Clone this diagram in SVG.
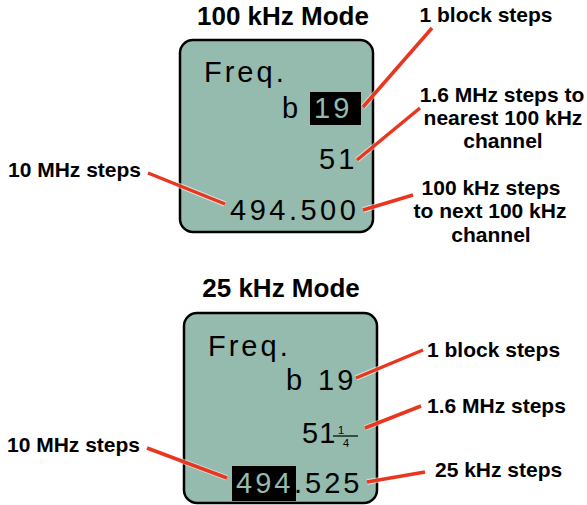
<svg xmlns="http://www.w3.org/2000/svg" width="587" height="505" viewBox="0 0 587 505">
<style>
.title{font-family:"Liberation Sans",Arial,sans-serif;font-weight:bold;font-size:26px;fill:#000;text-anchor:middle}
.lbl{font-family:"Liberation Sans",Arial,sans-serif;font-weight:bold;font-size:21px;fill:#000}
.mid{text-anchor:middle}
.lcd{font-family:"Liberation Sans",Arial,sans-serif;font-size:29px;fill:#000;letter-spacing:3px}
.inv{fill:#94bbad}
.frac{font-family:"Liberation Sans",Arial,sans-serif;font-size:11px;fill:#000;text-anchor:middle}
.box{fill:#94bbad;stroke:#000;stroke-width:2.5}
.lead{stroke:#e8361f;stroke-width:3.5;fill:none}
.halo{stroke:#fff;stroke-width:5.5;fill:none;opacity:0.6}
</style>
<rect width="587" height="505" fill="#fff"/>
<g id="mode100">
<text class="title" x="283" y="25">100 kHz Mode</text>
<rect class="box" x="180" y="40" width="193" height="192" rx="13"/>
<text class="lcd" x="204" y="82">Freq.</text>
<text class="lcd" x="282" y="118">b</text>
<rect x="310" y="92" width="51" height="33" fill="#000"/>
<text class="lcd inv" x="314" y="118">19</text>
<text class="lcd" x="319" y="169">51</text>
<text class="lcd" x="230" y="220" style="letter-spacing:3.5px">494.500</text>
</g>
<g id="mode25">
<text class="title" x="281" y="297">25 kHz Mode</text>
<rect class="box" x="184" y="313" width="193" height="190" rx="13"/>
<text class="lcd" x="208" y="356">Freq.</text>
<text class="lcd" x="286" y="390">b</text>
<text class="lcd" x="318" y="390">19</text>
<text class="lcd" x="302" y="443" style="letter-spacing:1px">51</text>
<text class="frac" x="341" y="434">1</text>
<line x1="333" y1="436" x2="358" y2="436" stroke="#000" stroke-width="1.2"/>
<text class="frac" x="346" y="447">4</text>
<rect x="232" y="466" width="64" height="35" fill="#000"/>
<text class="lcd inv" x="236" y="493">494</text>
<text class="lcd" x="294" y="493">.525</text>
</g>
<g id="labels">
<text class="lbl mid" x="486" y="22">1 block steps</text>
<text class="lbl mid" x="502" y="102">1.6 MHz steps to</text>
<text class="lbl mid" x="503" y="125">nearest 100 kHz</text>
<text class="lbl mid" x="503" y="148">channel</text>
<text class="lbl mid" x="491" y="195">100 kHz steps</text>
<text class="lbl mid" x="490" y="218">to next 100 kHz</text>
<text class="lbl mid" x="491" y="242">channel</text>
<text class="lbl" x="8" y="177">10 MHz steps</text>
<text class="lbl" x="427" y="357">1 block steps</text>
<text class="lbl" x="427" y="413">1.6 MHz steps</text>
<text class="lbl" x="435" y="477">25 kHz steps</text>
<text class="lbl" x="7" y="452">10 MHz steps</text>
</g>
<g id="connectors">
<line class="halo" x1="432" y1="28" x2="363" y2="107"/>
<line class="lead" x1="432" y1="28" x2="363" y2="107"/>
<line class="halo" x1="420" y1="108" x2="357" y2="160"/>
<line class="lead" x1="420" y1="108" x2="357" y2="160"/>
<line class="halo" x1="413" y1="195" x2="363" y2="210"/>
<line class="lead" x1="413" y1="195" x2="363" y2="210"/>
<line class="halo" x1="148" y1="173" x2="225" y2="204"/>
<line class="lead" x1="148" y1="173" x2="225" y2="204"/>
<line class="halo" x1="423" y1="350" x2="356" y2="378"/>
<line class="lead" x1="423" y1="350" x2="356" y2="378"/>
<line class="halo" x1="421" y1="406" x2="365" y2="428"/>
<line class="lead" x1="421" y1="406" x2="365" y2="428"/>
<line class="halo" x1="425" y1="472" x2="367" y2="482"/>
<line class="lead" x1="425" y1="472" x2="367" y2="482"/>
<line class="halo" x1="147" y1="448" x2="227" y2="478"/>
<line class="lead" x1="147" y1="448" x2="227" y2="478"/>
</g>
</svg>
